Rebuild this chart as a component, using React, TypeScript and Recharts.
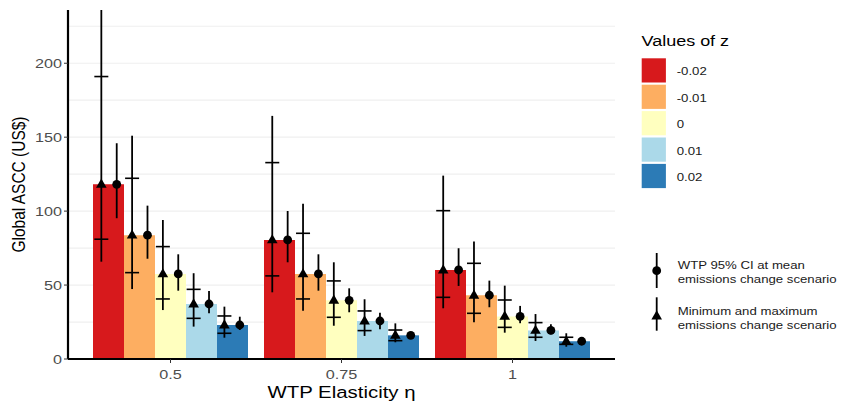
import React from 'react';
import { ComposedChart, Bar, Scatter, ErrorBar, XAxis, YAxis, CartesianGrid } from 'recharts';

// ---------- data ----------
const ELASTICITIES = ['0.5', '0.75', '1'];
const Z_VALUES = ['-0.02', '-0.01', '0', '0.01', '0.02'];
const Z_COLORS = ['#d7191c', '#fdae61', '#ffffbf', '#abd9e9', '#2c7bb6'];
const Y_TICKS = [0, 50, 100, 150, 200];
const GRID_VALUES = [25, 50, 75, 100, 125, 150, 175, 200, 225];
const Y_MAX = 236;

// rows: z value, columns: WTP elasticity
const ASCC_MEAN = [
  [118.1, 80.5, 60.2],
  [83.7, 57.5, 43.1],
  [57.5, 39.7, 28.8],
  [37.2, 25.7, 19.3],
  [23.0, 16.0, 12.0],
];
// WTP 95% CI at mean emissions change scenario
const CI_LOW = [
  [95.2, 65.4, 49.4],
  [67.8, 46.2, 35.0],
  [46.2, 31.6, 24.2],
  [30.9, 20.1, 16.7],
  [19.6, 13.5, 9.9],
];
const CI_HIGH = [
  [145.9, 100.1, 74.9],
  [103.7, 70.8, 53.0],
  [70.8, 47.8, 35.9],
  [46.0, 31.3, 23.5],
  [28.6, 18.1, 14.2],
];
// full range across min / max emissions change scenarios
const RANGE_LOW = [
  [65.8, 45.1, 34.3],
  [47.3, 32.7, 24.8],
  [33.1, 22.5, 17.8],
  [21.9, 15.6, 12.2],
  [14.4, 11.3, 8.3],
];
const RANGE_HIGH = [
  [245.0, 164.4, 124.0],
  [151.0, 104.9, 79.4],
  [94.0, 65.4, 49.6],
  [58.0, 40.4, 30.4],
  [35.4, 24.1, 17.4],
];
// point estimates at minimum / maximum emissions change scenario
const SCEN_MIN = [
  [81.0, 56.2, 41.7],
  [58.4, 40.6, 30.9],
  [40.6, 28.2, 21.4],
  [27.5, 19.2, 14.7],
  [17.4, 12.4, 9.9],
];
const SCEN_MAX = [
  [191.0, 132.8, 100.3],
  [122.2, 85.0, 64.7],
  [76.0, 52.8, 39.9],
  [47.1, 32.5, 24.6],
  [29.1, 19.6, 14.7],
];

// ---------- tables built for the library ----------
const N_Z = Z_VALUES.length;
const DODGE = 0.9 / N_Z; // width of one bar in category units
const xPos = (i: number, j: number, side: number) =>
  j + 1 + (i - (N_Z - 1) / 2) * DODGE + (side * DODGE) / 4;

const barData = ELASTICITIES.map((eta, j) => {
  const row: any = { eta };
  Z_VALUES.forEach((_, i) => {
    row['z' + i] = ASCC_MEAN[i][j];
  });
  return row;
});

const triData: any[] = [];
const circData: any[] = [];
const crossData: any[] = [];
Z_VALUES.forEach((_, i) => {
  ELASTICITIES.forEach((__, j) => {
    const m = ASCC_MEAN[i][j];
    // the panel clips anything above its top edge
    const hi = Math.min(RANGE_HIGH[i][j], Y_MAX);
    triData.push({ x: xPos(i, j, -1), y: m, err: [m - RANGE_LOW[i][j], hi - m] });
    circData.push({ x: xPos(i, j, 1), y: m, err: [m - CI_LOW[i][j], CI_HIGH[i][j] - m] });
    crossData.push({ x: xPos(i, j, -1), y: SCEN_MIN[i][j] });
    crossData.push({ x: xPos(i, j, -1), y: SCEN_MAX[i][j] });
  });
});

// ---------- styles ----------
const FONT = '"Liberation Sans", Arial, Helvetica, sans-serif';
const SX = 1.2; // horizontal text stretch of the reference
const W = 841;
const H = 405;

const TriangleShape = (p: any) =>
  p.cx == null ? null : (
    <path
      d={`M${p.cx},${p.cy - 5.8}L${p.cx + 5.3},${p.cy + 3.4}L${p.cx - 5.3},${p.cy + 3.4}Z`}
      fill="#000"
    />
  );
const CircleShape = (p: any) =>
  p.cx == null ? null : <circle cx={p.cx} cy={p.cy} r={4.4} fill="#000" />;
const CrossShape = (p: any) =>
  p.cx == null ? null : (
    <line x1={p.cx - 7} x2={p.cx + 7} y1={p.cy} y2={p.cy} stroke="#000" strokeWidth={1.6} />
  );

const XTick = (p: any) => (
  <g transform={`translate(${p.x},${p.y}) scale(${SX},1)`}>
    <text x={0} y={14} textAnchor="middle" fontSize={13.5} fill="#4d4d4d" fontFamily={FONT}>
      {p.payload.value}
    </text>
  </g>
);
const YTick = (p: any) => (
  <g transform={`translate(${p.x},${p.y}) scale(${SX},1)`}>
    <text x={0} y={4.8} textAnchor="end" fontSize={13.5} fill="#4d4d4d" fontFamily={FONT}>
      {p.payload.value}
    </text>
  </g>
);

const XTitle = (p: any) => {
  const vb = p.viewBox || { x: 68, y: 359, width: 547, height: 46 };
  return (
    <text
      transform={`translate(${vb.x + vb.width / 2},${vb.y + 39}) scale(${SX},1)`}
      textAnchor="middle"
      fontSize={17}
      fill="#000"
      fontFamily={FONT}
    >
      WTP Elasticity η
    </text>
  );
};
const YTitle = (p: any) => {
  const vb = p.viewBox || { x: 0, y: 10, width: 68, height: 349 };
  return (
    <text
      transform={`translate(${vb.x + 25},${vb.y + vb.height / 2}) scale(${SX},1) rotate(-90)`}
      textAnchor="middle"
      fontSize={15.5}
      fill="#000"
      fontFamily={FONT}
    >
      Global ASCC (US$)
    </text>
  );
};

const Legends = () => {
  const keyX = 641.7;
  const keyY0 = 58.3;
  const step = 26.4;
  const keySize = 24.2;
  return (
    <svg
      width={W}
      height={H}
      style={{ position: 'absolute', left: 0, top: 0, pointerEvents: 'none' }}
    >
      <text transform={`translate(641.5,46) scale(${SX},1)`} fontSize={15} fill="#000" fontFamily={FONT}>
        Values of z
      </text>
      {Z_VALUES.map((z, i) => (
        <g key={z}>
          <rect x={keyX} y={keyY0 + i * step} width={keySize} height={keySize} fill={Z_COLORS[i]} />
          <text
            transform={`translate(676.7,${keyY0 + i * step + keySize / 2 + 5}) scale(${SX},1)`}
            fontSize={11}
            fill="#1a1a1a"
            fontFamily={FONT}
          >
            {z}
          </text>
        </g>
      ))}
      {/* series glyph legend */}
      <line x1={656.7} x2={656.7} y1={253} y2={288} stroke="#000" strokeWidth={1.8} />
      <circle cx={656.7} cy={270.7} r={4.4} fill="#000" />
      <text transform={`translate(677.7,269.3) scale(${SX},1)`} fontSize={11} fill="#1a1a1a" fontFamily={FONT}>
        WTP 95% CI at mean
      </text>
      <text transform={`translate(677.7,282.7) scale(${SX},1)`} fontSize={11} fill="#1a1a1a" fontFamily={FONT}>
        emissions change scenario
      </text>
      <line x1={656.7} x2={656.7} y1={297.3} y2={330.7} stroke="#000" strokeWidth={1.8} />
      <path d="M656.7,310.2L662,319.4L651.4,319.4Z" fill="#000" />
      <text transform={`translate(677.7,315) scale(${SX},1)`} fontSize={11} fill="#1a1a1a" fontFamily={FONT}>
        Minimum and maximum
      </text>
      <text transform={`translate(677.7,328.6) scale(${SX},1)`} fontSize={11} fill="#1a1a1a" fontFamily={FONT}>
        emissions change scenario
      </text>
    </svg>
  );
};

export default function App() {
  return (
    <div style={{ position: 'absolute', left: 0, top: 0, width: W, height: H, background: '#fff' }}>
      <ComposedChart
        width={W}
        height={H}
        data={barData}
        margin={{ top: 10, right: 226, bottom: 0, left: 0 }}
        barGap={0}
      >
        <CartesianGrid
          xAxisId="num"
          vertical={false}
          horizontalValues={GRID_VALUES}
          stroke="#efefef"
          strokeWidth={1.2}
        />
        <XAxis
          xAxisId="cat"
          dataKey="eta"
          type="category"
          padding={{ left: 17, right: 17 }}
          height={46}
          axisLine={{ stroke: '#000', strokeWidth: 2.2 }}
          tickLine={{ stroke: '#333', strokeWidth: 1 }}
          tickSize={4}
          tick={<XTick />}
          label={XTitle}
        />
        <XAxis
          xAxisId="num"
          dataKey="x"
          type="number"
          domain={[0.4, 3.6]}
          allowDataOverflow
          hide
        />
        <YAxis
          type="number"
          domain={[0, Y_MAX]}
          allowDataOverflow
          ticks={Y_TICKS}
          width={68}
          axisLine={{ stroke: '#000', strokeWidth: 2.2 }}
          tickLine={{ stroke: '#333', strokeWidth: 1 }}
          tickSize={4}
          tick={<YTick />}
          label={YTitle}
        />
        {Z_VALUES.map((z, i) => (
          <Bar
            key={z}
            xAxisId="cat"
            dataKey={'z' + i}
            name={z}
            fill={Z_COLORS[i]}
            barSize={31}
            isAnimationActive={false}
          />
        ))}
        <Scatter
          xAxisId="num"
          data={triData}
          dataKey="y"
          shape={TriangleShape}
          isAnimationActive={false}
        >
          <ErrorBar dataKey="err" direction="y" width={0} stroke="#000" strokeWidth={1.8} />
        </Scatter>
        <Scatter
          xAxisId="num"
          data={crossData}
          dataKey="y"
          shape={CrossShape}
          isAnimationActive={false}
        />
        <Scatter
          xAxisId="num"
          data={circData}
          dataKey="y"
          shape={CircleShape}
          isAnimationActive={false}
        >
          <ErrorBar dataKey="err" direction="y" width={0} stroke="#000" strokeWidth={1.8} />
        </Scatter>
      </ComposedChart>
      <Legends />
    </div>
  );
}
